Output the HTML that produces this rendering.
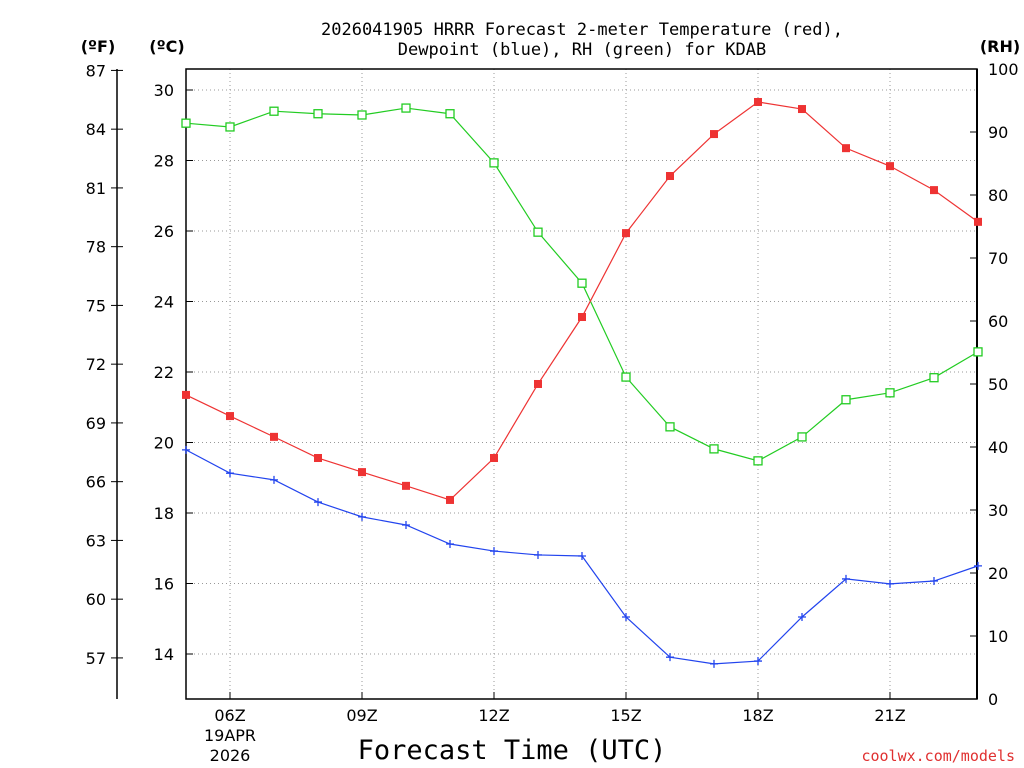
<!DOCTYPE html>
<html><head><meta charset="utf-8">
<style>
html,body{margin:0;padding:0;background:#fff;}
svg{display:block;}
text{font-family:"DejaVu Sans","Liberation Sans",sans-serif;fill:#000;}
</style></head>
<body>
<svg id="chart" width="1024" height="768" viewBox="0 0 1024 768" xmlns="http://www.w3.org/2000/svg">
<text x="582" y="35" font-size="17" text-anchor="middle" style="font-family:'DejaVu Sans Mono','Liberation Mono',monospace">2026041905 HRRR Forecast 2-meter Temperature (red),</text>
<text x="582" y="55" font-size="17" text-anchor="middle" style="font-family:'DejaVu Sans Mono','Liberation Mono',monospace">Dewpoint (blue), RH (green) for KDAB</text>
<text x="98" y="52" font-size="16" font-weight="bold" text-anchor="middle">(ºF)</text>
<text x="167" y="52" font-size="16" font-weight="bold" text-anchor="middle">(ºC)</text>
<text x="1000" y="52" font-size="16" font-weight="bold" text-anchor="middle">(RH)</text>
<text x="512" y="759" font-size="27" text-anchor="middle" style="font-family:'DejaVu Sans Mono','Liberation Mono',monospace">Forecast Time (UTC)</text>
<text x="1015" y="761" font-size="15" text-anchor="end" fill="#e03030" style="fill:#e03030;font-family:'DejaVu Sans Mono','Liberation Mono',monospace">coolwx.com/models</text>
<g id="grid"></g><g id="axes"></g><g id="series"></g>
</svg>
<script>
const hours=[5,6,7,8,9,10,11,12,13,14,15,16,17,18,19,20,21,22,23];
const tempC=[21.35,20.75,20.16,19.56,19.16,18.77,18.37,19.56,21.66,23.56,25.94,27.56,28.75,29.66,29.46,28.35,27.84,27.16,26.26];
const dewC=[19.79,19.13,18.94,18.31,17.89,17.66,17.12,16.92,16.81,16.78,15.05,13.91,13.72,13.80,15.05,16.13,15.99,16.07,16.50];
const rh=[91.4,90.8,93.3,92.9,92.7,93.8,92.9,85.1,74.1,66.0,51.1,43.2,39.7,37.8,41.6,47.5,48.6,51.0,55.1];
const cTicks=[14,16,18,20,22,24,26,28,30];
const fTicks=[57,60,63,66,69,72,75,78,81,84,87];
const rhTicks=[0,10,20,30,40,50,60,70,80,90,100];
const xTicks=[6,9,12,15,18,21];
const xTickLabels=["06Z","09Z","12Z","15Z","18Z","21Z"];
const NS="http://www.w3.org/2000/svg";
const L=186,R=977,T=69,B=699;
const xS=h=>L+(h-5)*44;
const yC=c=>90+(30-c)*35.25;
const yF=f=>yC((f-32)*5/9);
const yRH=v=>B-v*6.3;
function mk(tag,attrs,parent,txt){const e=document.createElementNS(NS,tag);for(const k in attrs)e.setAttribute(k,attrs[k]);if(txt!==undefined)e.textContent=txt;document.getElementById(parent).appendChild(e);return e;}
// plot frame
let e=mk('rect',{x:L,y:T,width:R-L,height:B-T,fill:'none',stroke:'#000','stroke-width':1.5},'axes');


// F axis line
e=mk('line',{x1:117,y1:T,x2:117,y2:B,stroke:'#000','stroke-width':1.5},'axes');


e=mk('line',{x1:R,y1:T,x2:R,y2:B,stroke:'#000','stroke-width':2},'axes');


cTicks.forEach(c=>{const y=yC(c);
 e=mk('line',{x1:L,y1:y,x2:R,y2:y,stroke:'#999','stroke-width':1,'stroke-dasharray':'1,3'},'grid');
 
 
 e=mk('line',{x1:L,y1:y,x2:L+7,y2:y,stroke:'#000'},'axes');
 
 
 e=mk('text',{x:L-12,y:y+6,'font-size':16,'text-anchor':'end'},'axes',String(c));
 
 });
fTicks.forEach(f=>{const y=yF(f);
 e=mk('line',{x1:111,y1:y,x2:123,y2:y,stroke:'#000'},'axes');
 
 
 e=mk('text',{x:106,y:y+6,'font-size':16,'text-anchor':'end'},'axes',String(f));
 
 });
rhTicks.forEach(v=>{const y=yRH(v);
 e=mk('line',{x1:R,y1:y,x2:R-7,y2:y,stroke:'#000'},'axes');
 
 
 e=mk('text',{x:988,y:y+6,'font-size':16,'text-anchor':'start'},'axes',String(v));
 
 });
xTicks.forEach((h,i)=>{const x=xS(h);
 e=mk('line',{x1:x,y1:T,x2:x,y2:B,stroke:'#999','stroke-width':1,'stroke-dasharray':'1,3'},'grid');
 
 
 e=mk('line',{x1:x,y1:B,x2:x,y2:B-7,stroke:'#000'},'axes');
 
 
 e=mk('text',{x:x,y:721,'font-size':16,'text-anchor':'middle'},'axes',xTickLabels[i]);
 
 });
e=mk('text',{x:xS(6),y:741,'font-size':16,'text-anchor':'middle'},'axes','19APR');


e=mk('text',{x:xS(6),y:761,'font-size':16,'text-anchor':'middle'},'axes','2026');


function line(vals,yf,color,name){
 const pts=vals.map((v,i)=>xS(hours[i])+','+yf(v)).join(' ');
 const p=mk('polyline',{points:pts,fill:'none',stroke:color,'stroke-width':1.2},'series');
 
 }
line(rh,yRH,'#22cc22','rh-line');
line(tempC,yC,'#ee3333','temperature-line');
line(dewC,yC,'#2244ee','dewpoint-line');
rh.forEach((v,i)=>{const m=mk('rect',{x:xS(hours[i])-4,y:yRH(v)-4,width:8,height:8,fill:'#fff',stroke:'#22cc22','stroke-width':1.3},'series');
 
 });
tempC.forEach((v,i)=>{const m=mk('rect',{x:xS(hours[i])-4,y:yC(v)-4,width:8,height:8,fill:'#ee3333'},'series');
 
 });
dewC.forEach((v,i)=>{const x=xS(hours[i]),y=yC(v);
 const m=mk('path',{d:`M${x-4},${y}H${x+4}M${x},${y-4}V${y+4}`,stroke:'#2244ee','stroke-width':1.3},'series');
 
 });
</script>
</body></html>
